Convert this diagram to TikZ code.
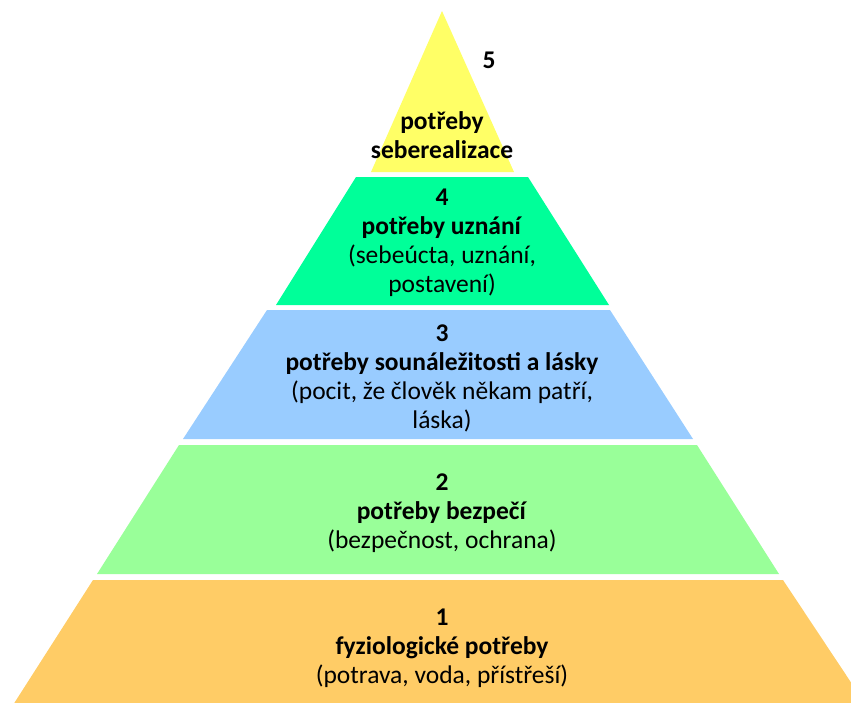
\documentclass[tikz,border=0pt]{standalone}
\usepackage{fontspec}
\setmainfont{Carlito}
\usetikzlibrary{positioning}
\definecolor{physorange}{RGB}{255,204,102}
\definecolor{safegreen}{RGB}{153,255,153}
\definecolor{loveblue}{RGB}{153,204,255}
\definecolor{esteemgreen}{RGB}{0,255,153}
\definecolor{selfyellow}{RGB}{255,255,102}
\tikzset{
  lbl/.style={align=center, inner sep=0pt, font=\fontsize{25.5}{29}\selectfont},
  numlbl/.style={inner sep=0pt, font=\fontsize{25.5}{29}\selectfont\bfseries}
}

\begin{document}
\begin{tikzpicture}[x=1pt, y=-1pt]
    \useasboundingbox (0,0) rectangle (851,702);
    \clip (0,0) rectangle (851,702);
    % layers, bottom to top
    \fill[physorange] (93,580) -- (783,580) -- (866,705) -- (13,705) -- cycle;
    \fill[safegreen] (179,445) -- (697,445) -- (779,574) -- (97,574) -- cycle;
    \fill[loveblue] (267,310) -- (610,310) -- (693,439) -- (183,439) -- cycle;
    \fill[esteemgreen] (356,177) -- (528,177) -- (609,305) -- (276,305) -- cycle;
    \fill[selfyellow] (442,11) -- (514,172) -- (371,172) -- cycle;

    \node[lbl] (phys) at (442,648) {\textbf{1}\\\textbf{fyziologické potřeby}\\(potrava, voda, přístřeší)};
    \node[lbl] (safe) at (442,513) {\textbf{2}\\\textbf{potřeby bezpečí}\\(bezpečnost, ochrana)};
    \node[lbl] (love) at (442,378) {\textbf{3}\\\textbf{potřeby sounáležitosti a lásky}\\(pocit, že člověk někam patří,\\láska)};
    \node[lbl] (esteem) at (442,243) {\textbf{4}\\\textbf{potřeby uznání}\\(sebeúcta, uznání,\\postavení)};
    \node[lbl] (self) at (442,135) {\textbf{potřeby}\\\textbf{seberealizace}};
    \node[numlbl] (selfnum) at (489,60) {5};
\end{tikzpicture}
\end{document}
